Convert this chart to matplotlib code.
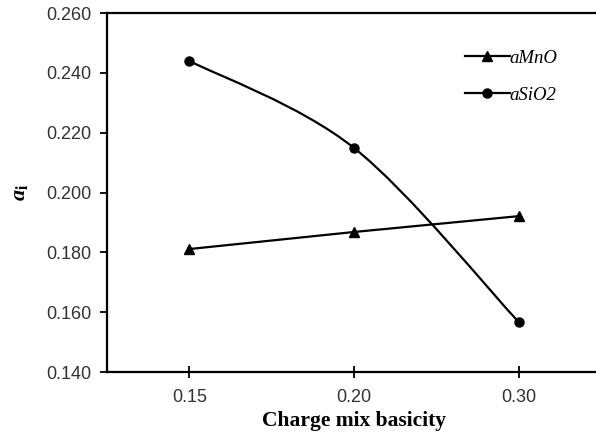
import numpy as np
import matplotlib
matplotlib.use("Agg")
import matplotlib.pyplot as plt
from matplotlib.path import Path
from matplotlib.patches import PathPatch
from matplotlib.lines import Line2D

categories = ["0.15", "0.20", "0.30"]
a_mno = [0.1811, 0.1868, 0.1921]
a_sio2 = [0.2440, 0.2149, 0.1567]
yticks = [0.140, 0.160, 0.180, 0.200, 0.220, 0.240, 0.260]

plt.rcParams["mathtext.fontset"] = "custom"
plt.rcParams["mathtext.it"] = "Liberation Serif:italic:bold"
plt.rcParams["mathtext.rm"] = "Liberation Serif:bold"

fig = plt.figure(figsize=(5.96, 4.43), dpi=100)
ax = fig.add_axes([107/596, 1-372/443, (601-107)/596, (372-13)/443])

x = np.arange(len(categories))

# aMnO straight line
ax.plot(x, a_mno, color="black", lw=1.6, marker="^", ms=6.5, zorder=3)

# aSiO2 smoothed line (Catmull-Rom -> cubic Bezier)
pts = np.column_stack([x, a_sio2]).astype(float)
n = len(pts)
verts = [tuple(pts[0])]
codes = [Path.MOVETO]
for i in range(n - 1):
    p0 = pts[i - 1] if i > 0 else pts[i]
    p1 = pts[i]
    p2 = pts[i + 1]
    p3 = pts[i + 2] if i + 2 < n else pts[i + 1]
    c1 = p1 + (p2 - p0) / 6.0
    c2 = p2 - (p3 - p1) / 6.0
    verts += [tuple(c1), tuple(c2), tuple(p2)]
    codes += [Path.CURVE4] * 3
patch = PathPatch(Path(verts, codes), facecolor="none", edgecolor="black", lw=1.6, zorder=3)
ax.add_patch(patch)
ax.plot(x, a_sio2, linestyle="none", color="black", marker="o", ms=6.5, zorder=4)

ax.set_xlim(-0.5, 2.5)
ax.set_ylim(0.140, 0.260)
ax.set_xticks(x)
ax.set_xticklabels(categories)
ax.set_yticks(yticks)
ax.set_yticklabels([f"{v:.3f}" for v in yticks])

for s in ["left", "bottom", "top", "right"]:
    ax.spines[s].set_linewidth(1.6)

ax.tick_params(axis="y", direction="out", length=5, width=1.3, pad=6,
               labelsize=13, labelcolor="#333333", labelfontfamily="Liberation Sans")
ax.tick_params(axis="x", direction="inout", length=8, width=1.3, pad=8,
               labelsize=13, labelcolor="#333333", labelfontfamily="Liberation Sans")

ax.set_xlabel("Charge mix basicity", fontfamily="Liberation Serif", fontweight="bold",
              fontsize=15.5, labelpad=4)
ax.set_ylabel(r"$a_\mathrm{i}$", fontsize=16, labelpad=12)

h1 = Line2D([], [], color="black", lw=1.6, marker="^", ms=6.5)
h2 = Line2D([], [], color="black", lw=1.6, marker="o", ms=6.5)
leg = ax.legend([h1, h2], ["aMnO", "aSiO2"], loc="upper left",
                bbox_to_anchor=(0.69, 0.945), frameon=False,
                prop={"family": "Liberation Serif", "style": "italic", "size": 13.5},
                handlelength=2.4, handletextpad=0.0, labelspacing=1.05)

fig.savefig("out.png", dpi=100)
